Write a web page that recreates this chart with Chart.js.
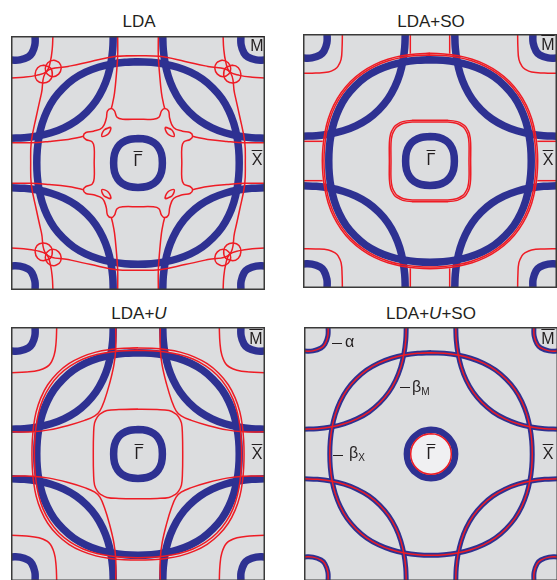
<!DOCTYPE html>
<html>
<head>
<meta charset="utf-8">
<script src="https://cdn.jsdelivr.net/npm/chart.js@4.4.1/dist/chart.umd.min.js"></script>
<style>
  body { margin: 0; width: 557px; height: 580px; overflow: hidden; background: #fff; position: relative;
         font-family: "Liberation Sans", Arial, sans-serif; color: #231f20; }
  canvas { position: absolute; }
  .lbl { position: absolute; transform: translate(-50%, -50%); line-height: 1; white-space: nowrap; font-size: 16px; }
  .side { position: absolute; transform: translate(0, -50%); line-height: 1; white-space: nowrap; font-size: 16px; }
  .side span { font-size: 10px; position: relative; top: 3px; }
  .title { font-size: 17px; }
  .bar { text-decoration: overline; }
  .dash { position: absolute; height: 0; width: 10px; border-top: 1px solid #231f20; }
</style>
</head>
<body>
<div class="lbl title" style="left:139px;top:21px">LDA</div>
<div class="lbl title" style="left:431px;top:21px">LDA+SO</div>
<div class="lbl title" style="left:139px;top:313px">LDA+<i>U</i></div>
<div class="lbl title" style="left:431px;top:313px">LDA+<i>U</i>+SO</div>

<canvas id="lda" width="254" height="254" style="left:11px;top:36px"></canvas>
<canvas id="ldaSo" width="254" height="254" style="left:303px;top:34px"></canvas>
<canvas id="ldaU" width="254" height="254" style="left:11px;top:327px"></canvas>
<canvas id="ldaUSo" width="254" height="254" style="left:304px;top:327px"></canvas>

<div class="lbl" style="left:138px;top:161px"><span class="bar">Γ</span></div>
<div class="lbl" style="left:257px;top:160px"><span class="bar">X</span></div>
<div class="lbl" style="left:257px;top:46px"><span class="bar">M</span></div>
<div class="lbl" style="left:431px;top:160px"><span class="bar">Γ</span></div>
<div class="lbl" style="left:548px;top:160px"><span class="bar">X</span></div>
<div class="lbl" style="left:548px;top:45px"><span class="bar">M</span></div>
<div class="lbl" style="left:139px;top:454px"><span class="bar">Γ</span></div>
<div class="lbl" style="left:257px;top:454px"><span class="bar">X</span></div>
<div class="lbl" style="left:256px;top:339px"><span class="bar">M</span></div>
<div class="lbl" style="left:431px;top:454px"><span class="bar">Γ</span></div>
<div class="lbl" style="left:548px;top:454px"><span class="bar">X</span></div>
<div class="lbl" style="left:548px;top:339px"><span class="bar">M</span></div>

<div class="dash" style="left:332px;top:343px"></div>
<div class="side" style="left:345px;top:342px">α</div>
<div class="dash" style="left:400px;top:387px"></div>
<div class="side" style="left:412px;top:387px">β<span>M</span></div>
<div class="dash" style="left:333px;top:455px"></div>
<div class="side" style="left:349px;top:453px">β<span>X</span></div>

<script>
const BLUE = '#2e3192';
const RED = '#ee1c25';
const BG = '#dcdddf';

// panel units: Γ at (0,0), X at the edge midpoints, M at the corners.
// Each list is the upper-left quadrant only; the other three come from the mirror symmetry.
// quarter arcs run from the top axis (x = 0) to the left axis (y = 0)

// blue (same in the first three panels)
const blueRingQ = [[0, 0.192], [-0.07, 0.185], [-0.125, 0.16], [-0.16, 0.125], [-0.185, 0.07], [-0.192, 0]];
const blueBigQ = [[0, 0.797], [-0.104, 0.793], [-0.209, 0.779], [-0.312, 0.754], [-0.413, 0.715], [-0.507, 0.661],
                  [-0.59, 0.59], [-0.661, 0.507], [-0.715, 0.413], [-0.754, 0.312], [-0.779, 0.209], [-0.793, 0.104], [-0.797, 0]];
const blueMCurve = [[-0.195, 1], [-0.199, 0.895], [-0.213, 0.789], [-0.238, 0.684], [-0.277, 0.583], [-0.332, 0.487],
                    [-0.403, 0.403], [-0.487, 0.332], [-0.583, 0.277], [-0.684, 0.238], [-0.789, 0.213], [-0.895, 0.199], [-1, 0.195]];
const blueCorner = [[-0.81, 1], [-0.812, 0.93], [-0.835, 0.865], [-0.865, 0.835], [-0.93, 0.812], [-1, 0.81]];

// LDA red
const ldaBigQ = [[0, 0.845], [-0.17, 0.84], [-0.37, 0.8], [-0.55, 0.76], [-0.72, 0.72], [-0.76, 0.55],
                 [-0.8, 0.37], [-0.84, 0.17], [-0.845, 0]];
const ldaArmTop = [[-0.16, 1], [-0.16, 0.845], [-0.17, 0.7], [-0.185, 0.55], [-0.2, 0.47], [-0.21, 0.43]];
const ldaArmSide = [[-1, 0.16], [-0.845, 0.16], [-0.7, 0.17], [-0.55, 0.185], [-0.47, 0.2], [-0.43, 0.21]];
const ldaStarQ = [[0, 0.345], [-0.12, 0.345], [-0.165, 0.36], [-0.185, 0.41], [-0.21, 0.43], [-0.24, 0.41],
                  [-0.25, 0.35], [-0.28, 0.28], [-0.35, 0.25], [-0.41, 0.24], [-0.43, 0.21], [-0.41, 0.185],
                  [-0.36, 0.165], [-0.345, 0.12], [-0.345, 0]];
const ldaPocket = [[-0.67, 1], [-0.675, 0.9], [-0.69, 0.8], [-0.72, 0.72], [-0.8, 0.69], [-0.9, 0.675], [-1, 0.67]];
const ldaKnotA = [[-0.745, 0.77], [-0.69, 0.75], [-0.675, 0.69], [-0.7, 0.645], [-0.75, 0.63], [-0.795, 0.65], [-0.81, 0.7], [-0.79, 0.75]];
const ldaKnotB = [[-0.665, 0.81], [-0.62, 0.79], [-0.605, 0.745], [-0.625, 0.7], [-0.67, 0.68], [-0.715, 0.7], [-0.73, 0.745], [-0.71, 0.79]];
const ldaEye = [[-0.215, 0.28], [-0.265, 0.262], [-0.285, 0.21], [-0.235, 0.228]];

// LDA+SO red
const soPocket = [[-0.69, 1], [-0.692, 0.9], [-0.7, 0.8], [-0.725, 0.745], [-0.745, 0.725], [-0.8, 0.7], [-0.9, 0.692], [-1, 0.69]];
const soBigOuterQ = [[0, 0.848], [-0.111, 0.843], [-0.222, 0.828], [-0.332, 0.801], [-0.438, 0.759], [-0.537, 0.7],
                     [-0.626, 0.626], [-0.7, 0.537], [-0.759, 0.438], [-0.801, 0.332], [-0.828, 0.222], [-0.843, 0.111], [-0.848, 0]];
const soBigInnerQ = [[0, 0.835], [-0.109, 0.83], [-0.219, 0.816], [-0.327, 0.789], [-0.431, 0.748], [-0.529, 0.69],
                     [-0.617, 0.617], [-0.69, 0.529], [-0.748, 0.431], [-0.789, 0.327], [-0.816, 0.219], [-0.83, 0.109], [-0.835, 0]];
const soStubTop = [[-0.155, 1], [-0.155, 0.845]];
const soStubSide = [[-1, 0.155], [-0.845, 0.155]];
const soSquareOuterQ = [[0, 0.32], [-0.14, 0.32], [-0.215, 0.31], [-0.265, 0.285], [-0.285, 0.265], [-0.31, 0.215], [-0.32, 0.14], [-0.32, 0]];
const soSquareInnerQ = [[0, 0.307], [-0.14, 0.307], [-0.208, 0.297], [-0.255, 0.273], [-0.273, 0.255], [-0.297, 0.208], [-0.307, 0.14], [-0.307, 0]];

// LDA+U red
const uPocket = [[-0.64, 1], [-0.645, 0.88], [-0.66, 0.78], [-0.7, 0.7], [-0.78, 0.66], [-0.88, 0.645], [-1, 0.64]];
const uBigOuterQ = [[0, 0.835], [-0.11, 0.832], [-0.22, 0.822], [-0.332, 0.802], [-0.442, 0.765], [-0.545, 0.711],
                    [-0.636, 0.636], [-0.711, 0.545], [-0.765, 0.442], [-0.802, 0.332], [-0.822, 0.22], [-0.832, 0.11], [-0.835, 0]];
const uBigInnerQ = [[0, 0.816], [-0.107, 0.813], [-0.215, 0.803], [-0.324, 0.783], [-0.432, 0.748], [-0.533, 0.694],
                    [-0.622, 0.622], [-0.694, 0.533], [-0.748, 0.432], [-0.783, 0.324], [-0.803, 0.215], [-0.813, 0.107], [-0.816, 0]];
const uArm = [[-0.175, 1], [-0.175, 0.83], [-0.19, 0.7], [-0.225, 0.55], [-0.265, 0.42], [-0.3, 0.34], [-0.34, 0.3],
              [-0.42, 0.265], [-0.55, 0.225], [-0.7, 0.19], [-0.83, 0.175], [-1, 0.175]];
const uSquareQ = [[0, 0.352], [-0.15, 0.35], [-0.245, 0.342], [-0.295, 0.318], [-0.318, 0.295], [-0.342, 0.245], [-0.35, 0.15], [-0.352, 0]];

// LDA+U+SO: red runs inside the thinner blue lines; inner red ring at Γ
const usoRingQ = [[0, 0.19], [-0.07, 0.178], [-0.124, 0.143], [-0.143, 0.124], [-0.178, 0.07], [-0.19, 0]];
const usoRedRingQ = [[0, 0.16], [-0.062, 0.148], [-0.113, 0.113], [-0.148, 0.062], [-0.16, 0]];

function toXY(pts) {
    return pts.map(([x, y]) => ({ x, y }));
}

// the four mirror images of an upper-left piece
function flips(pts) {
    return [[1, 1], [-1, 1], [1, -1], [-1, -1]].map(([sx, sy]) => pts.map(([x, y]) => [x * sx, y * sy]));
}

// closed curve from its upper-left quarter
function loop(q) {
    const ll = q.map(([x, y]) => [x, -y]).reverse();
    const lr = q.map(([x, y]) => [-x, -y]);
    const ur = q.map(([x, y]) => [-x, y]).reverse();
    const pts = [...q, ...ll.slice(1), ...lr.slice(1), ...ur.slice(1, -1)];
    return closed(pts);
}

// go over the first two points again so the join stays smooth
function closed(pts) {
    return [...pts, pts[0], pts[1]];
}

function line(pts, color, width, order, extra) {
    return Object.assign({
        data: toXY(pts), borderColor: color, borderWidth: width, order: order,
        pointRadius: 0, tension: 0.4, fill: false, borderJoinStyle: 'round'
    }, extra || {});
}

function mirrored(pts, color, width, order) {
    return flips(pts).map(p => line(p, color, width, order));
}

function blueNet(w) {
    return [
        line(loop(blueRingQ), BLUE, w, 2),
        line(loop(blueBigQ), BLUE, w, 2),
        ...mirrored(blueMCurve, BLUE, w, 2),
        ...mirrored(blueCorner, BLUE, w, 2)
    ];
}

const frame = {
    id: 'frame',
    beforeDatasetsDraw(chart) {
        const { ctx, chartArea: a } = chart;
        ctx.save();
        ctx.fillStyle = BG;
        ctx.fillRect(a.left, a.top, a.right - a.left, a.bottom - a.top);
        ctx.restore();
    },
    afterDatasetsDraw(chart) {
        const { ctx, chartArea: a } = chart;
        ctx.save();
        ctx.strokeStyle = '#3a3a3a';
        ctx.lineWidth = 1.5;
        ctx.strokeRect(a.left + 0.75, a.top + 0.75, a.right - a.left - 1.5, a.bottom - a.top - 1.5);
        ctx.restore();
    }
};

function panel(id, datasets) {
    return new Chart(document.getElementById(id), {
        type: 'line',
        data: { datasets },
        options: {
            responsive: false, animation: false, events: [],
            layout: { padding: 0 },
            scales: {
                x: { type: 'linear', min: -1, max: 1, display: false },
                y: { type: 'linear', min: -1, max: 1, display: false }
            },
            plugins: { legend: { display: false }, tooltip: { enabled: false } }
        },
        plugins: [frame]
    });
}

const RW = 1.5;

panel('lda', [
    ...blueNet(7.5),
    line(loop(ldaBigQ), RED, RW, 1),
    line(loop(ldaStarQ), RED, RW, 1),
    ...mirrored(ldaArmTop, RED, RW, 1),
    ...mirrored(ldaArmSide, RED, RW, 1),
    ...mirrored(ldaPocket, RED, RW, 1),
    ...mirrored(closed(ldaKnotA), RED, RW, 1),
    ...mirrored(closed(ldaKnotB), RED, RW, 1),
    ...mirrored(closed(ldaEye), RED, RW, 1)
]);

panel('ldaSo', [
    ...blueNet(7.5),
    line(loop(soBigOuterQ), RED, RW, 1),
    line(loop(soBigInnerQ), RED, RW, 1),
    line(loop(soSquareOuterQ), RED, RW, 1),
    line(loop(soSquareInnerQ), RED, RW, 1),
    ...mirrored(soPocket, RED, RW, 1),
    ...mirrored(soStubTop, RED, RW, 1),
    ...mirrored(soStubSide, RED, RW, 1)
]);

panel('ldaU', [
    ...blueNet(7.5),
    line(loop(uBigOuterQ), RED, RW, 1),
    line(loop(uBigInnerQ), RED, RW, 1),
    line(loop(uSquareQ), RED, RW, 1),
    ...mirrored(uPocket, RED, RW, 1),
    ...mirrored(uArm, RED, RW, 1)
]);

panel('ldaUSo', [
    line(loop(usoRingQ), BLUE, 6.5, 2),
    line(loop(blueBigQ), BLUE, 5, 2),
    ...mirrored(blueMCurve, BLUE, 5, 2),
    ...mirrored(blueCorner, BLUE, 5, 2),
    line(loop(usoRedRingQ), RED, RW, 1, { fill: 'shape', backgroundColor: '#f0f0f2' }),
    line(loop(blueBigQ), RED, RW, 1),
    ...mirrored(blueMCurve, RED, RW, 1),
    ...mirrored(blueCorner, RED, RW, 1)
]);
</script>
</body>
</html>
